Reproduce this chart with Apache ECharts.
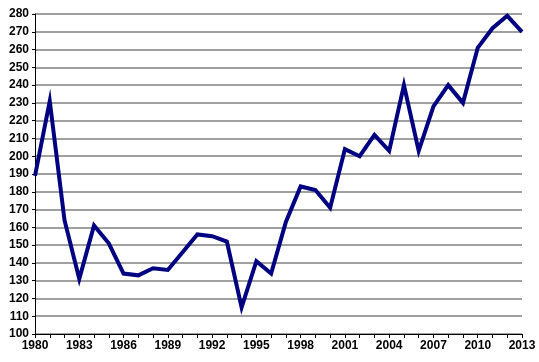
<!DOCTYPE html>
<html><head><meta charset="utf-8">
<script src="https://cdn.jsdelivr.net/npm/echarts@6/dist/echarts.min.js"></script>
<style>html,body{margin:0;padding:0;background:#fff}#c{width:539px;height:362px}</style>
</head><body><div id="c"></div>
<script>
var years = [];
for (var y = 1980; y <= 2013; y++) years.push(String(y));
var values = [189,231,164,131,161,151,134,133,137,136,146,156,155,152,115,141,134,163,183,181,171,204,200,212,203,240,203,228,240,230,261,272,279,270];
var yMin = 100, yMax = 280, yStep = 10;

var chart = echarts.init(document.getElementById('c'), null, {renderer:'canvas'});
chart.setOption({
  animation:false,
  grid:{left:35,right:17,top:14,bottom:28},
  xAxis:{
    type:'category', data:years, boundaryGap:false,
    axisLine:{lineStyle:{color:'#000',width:1}},
    axisTick:{interval:0,length:4,lineStyle:{color:'#000'}},
    axisLabel:{interval:2,color:'#000',fontFamily:'Liberation Sans, Arial',fontWeight:'bold',fontSize:12,margin:6},
    splitLine:{show:false}
  },
  yAxis:{
    type:'value', min:yMin, max:yMax, interval:yStep,
    axisLine:{show:true,lineStyle:{color:'#000',width:1}},
    axisTick:{show:true,length:3,lineStyle:{color:'#000'}},
    axisLabel:{color:'#000',fontFamily:'Liberation Sans, Arial',fontWeight:'bold',fontSize:12,margin:6},
    splitLine:{show:true,lineStyle:{color:'#808080',width:1.5}}
  },
  series:[{
    type:'line', data:values, symbol:'none',
    lineStyle:{color:'#000080',width:4,join:'miter'}
  }]
});
</script></body></html>
